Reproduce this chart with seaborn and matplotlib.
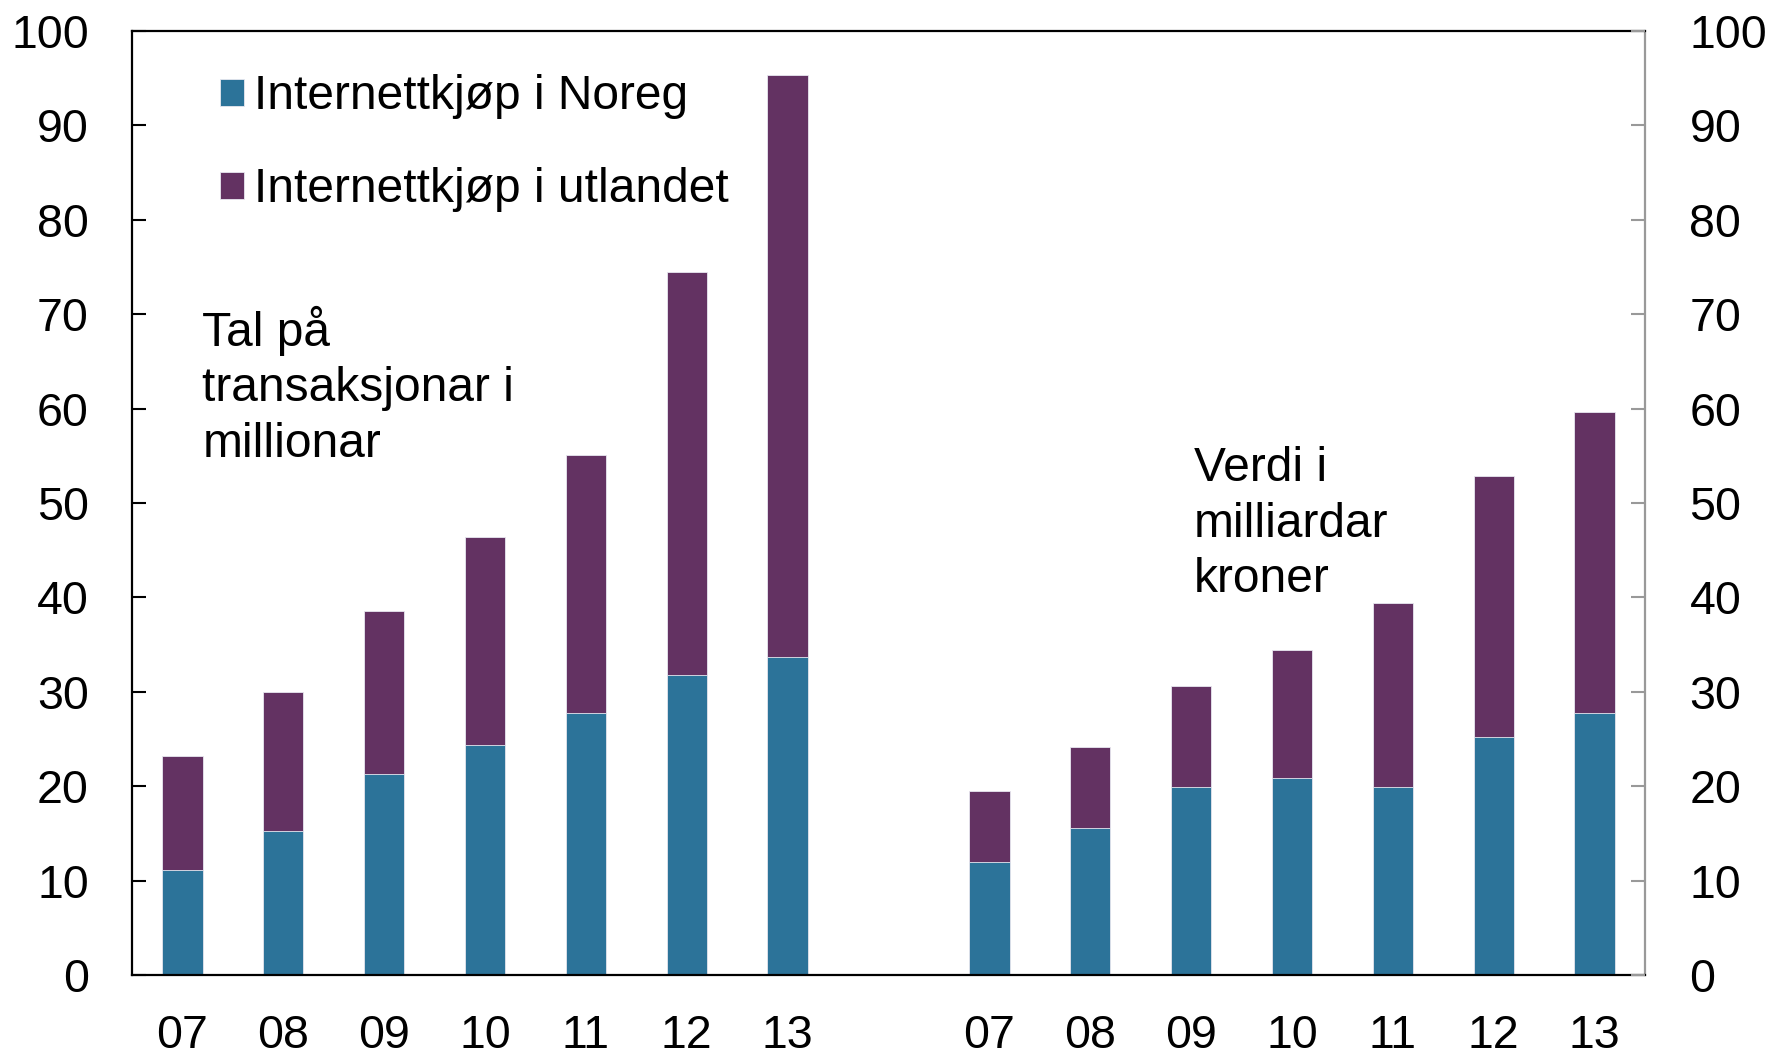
import matplotlib
matplotlib.use("Agg")
import matplotlib.pyplot as plt
import seaborn as sns
import numpy as np

# %%
years = ["07", "08", "09", "10", "11", "12", "13"]
# Tal på transaksjonar i millionar
tal_noreg = [11.1, 15.3, 21.3, 24.4, 27.8, 31.8, 33.7]
tal_total = [23.2, 30.0, 38.6, 46.4, 55.1, 74.5, 95.3]
# Verdi i milliardar kroner
verdi_noreg = [12.0, 15.6, 19.9, 20.9, 19.9, 25.2, 27.8]
verdi_total = [19.5, 24.2, 30.6, 34.4, 39.4, 52.9, 59.6]

label_noreg = "Internettkjøp i Noreg"
label_utland = "Internettkjøp i utlandet"

blue = "#2c7399"
purple = "#633262"

# %%
sns.set_style("white")
plt.rcParams["font.family"] = ["Liberation Sans", "DejaVu Sans"]
plt.rcParams["text.color"] = "black"
plt.rcParams["xtick.labelcolor"] = "black"
plt.rcParams["ytick.labelcolor"] = "black"
fs = 33.5
fs_txt = 34.5

pos = list(range(7)) + list(range(8, 15))
noreg = tal_noreg + verdi_noreg
total = tal_total + verdi_total

fig = plt.figure(figsize=(17.72, 10.55), dpi=100)
ax = fig.add_axes([132 / 1772, 1 - 975 / 1055, (1645 - 132) / 1772, (975 - 31) / 1055])

sns.barplot(x=pos, y=total, native_scale=True, width=0.4, color=purple,
            saturation=1, edgecolor="#e8e8f0", linewidth=0.6, label=label_utland, ax=ax)
sns.barplot(x=pos, y=noreg, native_scale=True, width=0.4, color=blue,
            saturation=1, edgecolor="#e8e8f0", linewidth=0.6, label=label_noreg, ax=ax)

ax.set_xlim(-0.5, 14.5)
ax.set_ylim(0, 100)
ax.set_yticks(range(0, 101, 10))
ax.set_xticks(pos)
ax.set_xticklabels(years + years)
ax.set_xticks(np.arange(0.5, 14, 1), minor=True)
ax.tick_params(axis="x", which="major", length=0, pad=28, labelsize=fs, labelcolor="black")
ax.tick_params(axis="x", which="minor", length=10, width=1.5, direction="in", color="black")
ax.tick_params(axis="y", left=True, length=10, width=1.5, direction="in",
               pad=31, labelsize=fs, color="black", labelcolor="black")

for side in ["left", "bottom", "top"]:
    ax.spines[side].set_color("black")
    ax.spines[side].set_linewidth(1.6)
ax.spines["right"].set_color("#999999")
ax.spines["right"].set_linewidth(1.6)

ax2 = ax.twinx()
ax2.set_ylim(0, 100)
ax2.set_yticks(range(0, 101, 10))
ax2.tick_params(axis="y", right=True, length=10, width=1.5, direction="in",
                pad=32, labelsize=fs, color="#999999", labelcolor="black")
for s in ax2.spines.values():
    s.set_visible(False)

handles, labels = ax.get_legend_handles_labels()
order = [labels.index(label_noreg), labels.index(label_utland)]
leg = ax.legend([handles[i] for i in order], [labels[i] for i in order],
                loc="upper left", bbox_to_anchor=(0.058, 0.954), frameon=False,
                fontsize=fs_txt, handlelength=0.5, handleheight=0.5, handletextpad=0.22,
                labelspacing=1.0, borderpad=0, borderaxespad=0)
for t in leg.get_texts():
    t.set_color("black")

ax.text(0.0465, 0.709, "Tal på\ntransaksjonar i\nmillionar", transform=ax.transAxes,
        fontsize=fs_txt, va="top", ha="left", linespacing=1.3, color="black")
ax.text(0.702, 0.56, "Verdi i\nmilliardar\nkroner", transform=ax.transAxes,
        fontsize=fs_txt, va="top", ha="left", linespacing=1.3, color="black")

fig.savefig("out.png", dpi=100)
